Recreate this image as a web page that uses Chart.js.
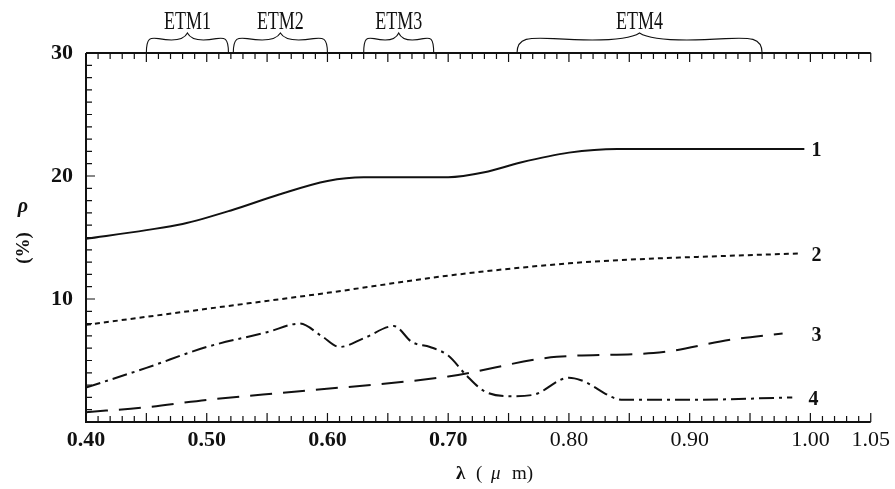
<!DOCTYPE html>
<html>
<head>
<meta charset="utf-8">
<script src="https://cdn.jsdelivr.net/npm/chart.js@4/dist/chart.umd.min.js"></script>
<style>
  body { margin: 0; background: #fff; }
  #wrap { width: 895px; height: 489px; position: relative; }
</style>
</head>
<body>
<div id="wrap"><canvas id="spectra"></canvas></div>
<script>
// curve 1 (solid)
const x1 = [0.40, 0.45, 0.48, 0.52, 0.56, 0.60, 0.63, 0.66, 0.70, 0.73, 0.76, 0.80, 0.84, 0.90, 0.995];
const y1 = [14.9, 15.6, 16.1, 17.2, 18.5, 19.6, 19.9, 19.9, 19.9, 20.3, 21.1, 21.9, 22.2, 22.2, 22.2];
// curve 2 (short dashes)
const x2 = [0.40, 0.50, 0.60, 0.70, 0.80, 0.85, 0.90, 0.99];
const y2 = [7.9, 9.2, 10.5, 11.9, 12.9, 13.2, 13.4, 13.7];
// curve 3 (long dashes)
const x3 = [0.40, 0.45, 0.50, 0.577, 0.70, 0.79, 0.87, 0.935, 0.977];
const y3 = [0.8, 1.2, 1.8, 2.5, 3.7, 5.3, 5.6, 6.7, 7.2];
// curve 4 (dash-dot)
const x4 = [0.40, 0.45, 0.50, 0.55, 0.577, 0.595, 0.61, 0.63, 0.655, 0.67, 0.685, 0.70, 0.715, 0.73, 0.75, 0.77, 0.80, 0.81, 0.845, 0.90, 0.985];
const y4 = [2.8, 4.4, 6.1, 7.3, 8.0, 7.0, 6.1, 6.8, 7.8, 6.5, 6.1, 5.4, 3.8, 2.5, 2.1, 2.2, 3.6, 3.4, 1.8, 1.8, 2.0];

const curveNames = ["1", "2", "3", "4"];
const xTickLabels = [0.40, 0.50, 0.60, 0.70, 0.80, 0.90, 1.00, 1.05];
const yTickLabels = [10, 20, 30];

// TM bands marked with braces above the plot
const etmNames = ["ETM1", "ETM2", "ETM3", "ETM4"];
const etmStart = [0.45, 0.522, 0.63, 0.757];
const etmEnd = [0.518, 0.60, 0.688, 0.96];

const ink = "#111";
const serif = "'Liberation Serif', 'DejaVu Serif', serif";

function pts(xs, ys) {
  return xs.map((x, i) => ({ x: x, y: ys[i] }));
}

function line(label, xs, ys, dash) {
  return {
    label: label,
    data: pts(xs, ys),
    borderColor: ink,
    borderWidth: 2,
    borderDash: dash,
    pointRadius: 0,
    tension: 0.4,
    cubicInterpolationMode: "monotone",
    fill: false
  };
}

function brace(ctx, a, b, y0, h) {
  const mid = (a + b) / 2;
  const w = mid - a;
  ctx.beginPath();
  ctx.moveTo(a, y0);
  ctx.bezierCurveTo(a, y0 - 0.8 * h, a + 0.1 * w, y0 - 0.78 * h, a + 0.3 * w, y0 - 0.72 * h);
  ctx.bezierCurveTo(a + 0.6 * w, y0 - 0.6 * h, mid - 0.1 * w, y0 - 0.6 * h, mid, y0 - h);
  ctx.bezierCurveTo(mid + 0.1 * w, y0 - 0.6 * h, b - 0.6 * w, y0 - 0.6 * h, b - 0.3 * w, y0 - 0.72 * h);
  ctx.bezierCurveTo(b - 0.1 * w, y0 - 0.78 * h, b, y0 - 0.8 * h, b, y0);
  ctx.stroke();
}

const decorations = {
  id: "decorations",
  afterDraw(chart) {
    const ctx = chart.ctx;
    const xs = chart.scales.x;
    const ys = chart.scales.y;
    const a = chart.chartArea;
    ctx.save();
    ctx.strokeStyle = ink;
    ctx.fillStyle = ink;

    // frame: left, bottom, top
    ctx.lineWidth = 2;
    ctx.beginPath();
    ctx.moveTo(a.left, a.top);
    ctx.lineTo(a.right, a.top);
    ctx.moveTo(a.left, a.top);
    ctx.lineTo(a.left, a.bottom);
    ctx.lineTo(a.right, a.bottom);
    ctx.stroke();

    // inward minor ticks
    ctx.lineWidth = 1.2;
    ctx.beginPath();
    for (let i = 40; i <= 105; i++) {
      const px = xs.getPixelForValue(i / 100);
      const len = i % 5 === 0 ? 9 : 6;
      ctx.moveTo(px, a.top);
      ctx.lineTo(px, a.top + len);
      ctx.moveTo(px, a.bottom);
      ctx.lineTo(px, a.bottom - len);
    }
    for (let v = 1; v < 30; v++) {
      const py = ys.getPixelForValue(v);
      const len = v % 10 === 0 ? 9 : 6;
      ctx.moveTo(a.left, py);
      ctx.lineTo(a.left + len, py);
    }
    ctx.stroke();

    // ETM braces and names
    ctx.lineWidth = 1.1;
    etmNames.forEach((name, i) => {
      const p0 = xs.getPixelForValue(etmStart[i]);
      const p1 = xs.getPixelForValue(etmEnd[i]);
      brace(ctx, p0, p1, a.top, 20);
      ctx.save();
      ctx.translate((p0 + p1) / 2, 22);
      ctx.scale(0.72, 1);
      ctx.font = "25px " + serif;
      ctx.textAlign = "center";
      ctx.textBaseline = "middle";
      ctx.fillText(name, 0, 0);
      ctx.restore();
    });

    // curve numbers at the right end
    ctx.font = "bold 20px " + serif;
    ctx.textAlign = "center";
    ctx.textBaseline = "middle";
    chart.data.datasets.forEach((ds, i) => {
      const last = ds.data[ds.data.length - 1];
      const px = xs.getPixelForValue(1.005);
      const py = ys.getPixelForValue(last.y);
      ctx.fillText(curveNames[i], px + (i === 3 ? -3 : 0), py + 2);
    });

    // axis titles
    ctx.font = "bold italic 20px " + serif;
    ctx.fillText("\u03c1", 23, 207);
    ctx.save();
    ctx.translate(24, 248);
    ctx.rotate(-Math.PI / 2);
    ctx.font = "bold 19px " + serif;
    ctx.fillText("(%)", 0, 0);
    ctx.restore();

    ctx.font = "bold 19px " + serif;
    ctx.textAlign = "left";
    ctx.fillText("\u03bb", 456, 474);
    ctx.font = "19px " + serif;
    ctx.fillText("(", 476, 474);
    ctx.font = "italic 19px " + serif;
    ctx.fillText("\u03bc", 491, 474);
    ctx.font = "19px " + serif;
    ctx.fillText("m)", 512, 474);
    ctx.restore();
  }
};

new Chart("spectra", {
  type: "line",
  data: {
    datasets: [
      line(curveNames[0], x1, y1, []),
      line(curveNames[1], x2, y2, [5, 4]),
      line(curveNames[2], x3, y3, [22, 11]),
      line(curveNames[3], x4, y4, [15, 5, 3, 5])
    ]
  },
  options: {
    responsive: true,
    maintainAspectRatio: false,
    animation: false,
    layout: { padding: { left: 0, right: 23, top: 53, bottom: 0 } },
    plugins: {
      legend: { display: false },
      tooltip: { enabled: false }
    },
    scales: {
      x: {
        type: "linear",
        min: 0.40,
        max: 1.05,
        afterBuildTicks: (s) => { s.ticks = xTickLabels.map(v => ({ value: v })); },
        afterFit: (s) => { s.height = 67; },
        grid: { display: false, drawTicks: false },
        border: { display: false },
        ticks: {
          padding: 5,
          maxRotation: 0,
          autoSkip: false,
          color: ink,
          font: (c) => ({ family: serif, size: 22, weight: c.tick && c.tick.value < 0.75 ? "bold" : "normal" }),
          callback: (v) => Number(v).toFixed(2)
        }
      },
      y: {
        min: 0,
        max: 30,
        afterBuildTicks: (s) => { s.ticks = yTickLabels.map(v => ({ value: v })); },
        afterFit: (s) => { s.width = 86; },
        grid: { display: false, drawTicks: false },
        border: { display: false },
        ticks: {
          padding: 13,
          color: ink,
          font: { family: serif, size: 22, weight: "bold" }
        }
      }
    }
  },
  plugins: [decorations]
});
</script>
</body>
</html>
